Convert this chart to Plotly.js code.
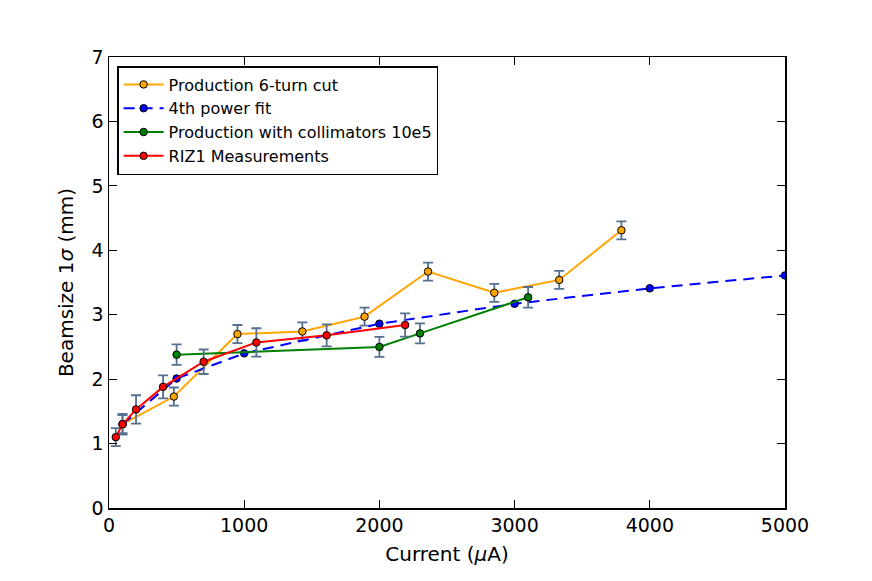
<!DOCTYPE html>
<html>
<head>
<meta charset="utf-8">
<script src="https://cdn.plot.ly/plotly-3.0.1.min.js"></script>
<style>
  body { margin: 0; background: #fff; }
  #plot { width: 872px; height: 581px; }
</style>
</head>
<body>
<div id="plot"></div>
<script>
// Production 6-turn cut
var prodX = [100, 480, 950, 1430, 1890, 2360, 2850, 3330, 3790];
var prodY = [1.30, 1.73, 2.70, 2.74, 2.97, 3.67, 3.34, 3.54, 4.31];
var prodErr = [0.14, 0.14, 0.14, 0.14, 0.14, 0.14, 0.14, 0.14, 0.14];

// 4th power fit
var fitX = [100, 500, 1000, 2000, 3000, 4000, 5000];
var fitY = [1.30, 2.01, 2.40, 2.86, 3.17, 3.41, 3.61];

// Production with collimators 10e5
var collX = [500, 2000, 2300, 3100];
var collY = [2.38, 2.50, 2.71, 3.27];
var collErr = [0.16, 0.155, 0.155, 0.16];

// RIZ1 Measurements
var rizX = [50, 100, 200, 400, 700, 1090, 1610, 2190];
var rizY = [1.10, 1.30, 1.53, 1.88, 2.27, 2.57, 2.68, 2.84];
var rizErr = [0.14, 0.16, 0.22, 0.18, 0.19, 0.22, 0.17, 0.18];

var errColor = '#56708f';

function errBars(arr) {
    return { type: 'data', array: arr, visible: true, color: errColor, thickness: 1.8, width: 5 };
}

var trace1 = {
    x: prodX, y: prodY, name: 'Production 6-turn cut',
    mode: 'lines+markers', type: 'scatter',
    line: { color: '#ffa500', width: 2 },
    marker: { color: '#ffa500', size: 7.5, line: { color: '#000', width: 1 } },
    error_y: errBars(prodErr)
};
var trace2 = {
    x: fitX, y: fitY, name: '4th power fit',
    mode: 'lines+markers', type: 'scatter',
    line: { color: '#0000ff', width: 2, dash: '11px,7px' },
    marker: { color: '#0000ff', size: 7.5, line: { color: '#000', width: 1 } }
};
var trace3 = {
    x: collX, y: collY, name: 'Production with collimators 10e5',
    mode: 'lines+markers', type: 'scatter',
    line: { color: '#008000', width: 2 },
    marker: { color: '#008000', size: 7.5, line: { color: '#000', width: 1 } },
    error_y: errBars(collErr)
};
var trace4 = {
    x: rizX, y: rizY, name: 'RIZ1 Measurements',
    mode: 'lines+markers', type: 'scatter',
    line: { color: '#ff0000', width: 2 },
    marker: { color: '#ff0000', size: 7.5, line: { color: '#000', width: 1 } },
    error_y: errBars(rizErr)
};

var axisCommon = {
    showgrid: false, zeroline: false,
    showline: true, linecolor: '#000', linewidth: 1.5, mirror: 'ticks',
    ticks: 'inside', ticklen: 8, tickwidth: 1, tickcolor: '#000',
    tickfont: { family: 'DejaVu Sans', size: 19, color: '#000' }
};

var layout = {
    width: 872, height: 581,
    margin: { l: 109, r: 87, t: 57, b: 73 },
    paper_bgcolor: '#fff', plot_bgcolor: '#fff',
    font: { family: 'DejaVu Sans', color: '#000' },
    showlegend: true,
    legend: {
        x: 0.012, y: 0.98, xanchor: 'left', yanchor: 'top',
        bordercolor: '#000', borderwidth: 1.5, bgcolor: '#fff',
        font: { family: 'DejaVu Sans', size: 16, color: '#000' },
        itemwidth: 40, tracegroupgap: 0
    },
    xaxis: Object.assign({}, axisCommon, {
        range: [0, 5000], tickvals: [0, 1000, 2000, 3000, 4000, 5000],
        title: { text: 'Current (<i>μ</i>A)', font: { family: 'DejaVu Sans', size: 20 }, standoff: 11 }
    }),
    yaxis: Object.assign({}, axisCommon, {
        range: [0, 7], dtick: 1,
        title: { text: 'Beamsize 1<i>σ</i> (mm)', font: { family: 'DejaVu Sans', size: 20 }, standoff: 12 }
    })
};

Plotly.newPlot('plot', [trace1, trace2, trace3, trace4], layout, { displayModeBar: false, staticPlot: true });
</script>
</body>
</html>
